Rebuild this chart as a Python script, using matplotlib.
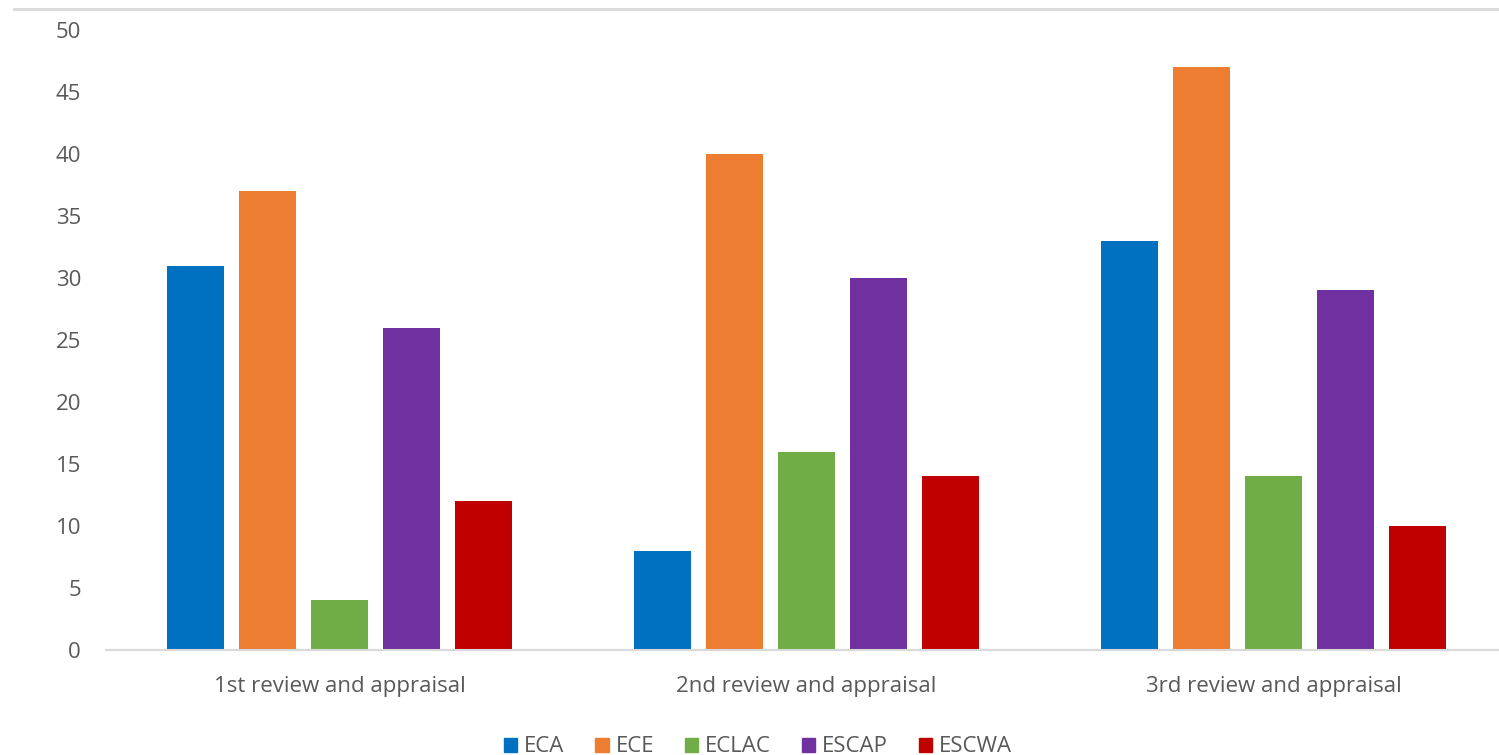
import matplotlib.pyplot as plt
import numpy as np
from matplotlib.lines import Line2D

plt.rcParams['font.family'] = ['Open Sans', 'DejaVu Sans']

# Datos
categorias = ['1st review and appraisal', '2nd review and appraisal', '3rd review and appraisal']
series = ['ECA', 'ECE', 'ECLAC', 'ESCAP', 'ESCWA']
valores = {
    'ECA': [31, 8, 33],
    'ECE': [37, 40, 47],
    'ECLAC': [4, 16, 14],
    'ESCAP': [26, 30, 29],
    'ESCWA': [12, 14, 10],
}
colores = ['#0070C0', '#ED7D31', '#70AD47', '#7030A0', '#C00000']

fig = plt.figure(figsize=(14.99, 7.55), dpi=100)
ax = fig.add_axes([106 / 1499, 105 / 755, 1401 / 1499, 620 / 755])

x = np.arange(len(categorias))
paso = 0.154
ancho = 0.122
for i, (s, c) in enumerate(zip(series, colores)):
    offset = (i - 2) * paso
    ax.bar(x + offset, valores[s], width=ancho, color=c, label=s, zorder=2)

ax.set_xlim(-0.5, 2.5)
ax.set_ylim(0, 50)
ax.set_yticks(range(0, 51, 5))
ax.set_xticks(x)
ax.set_xticklabels(categorias)
ax.tick_params(axis='both', length=0, labelsize=16, labelcolor='#595959')
ax.tick_params(axis='y', pad=18)
ax.tick_params(axis='x', pad=19)

for sp in ['top', 'right', 'left']:
    ax.spines[sp].set_visible(False)
ax.spines['bottom'].set_color('#D9D9D9')
ax.spines['bottom'].set_linewidth(1.5)

# Borde superior del gráfico
fig.add_artist(Line2D([14 / 1499, 1.0], [1 - 9 / 755, 1 - 9 / 755], color='#D9D9D9', linewidth=2))

handles = [plt.Rectangle((0, 0), 1, 1, color=c) for c in colores]
fig.legend(handles, series, loc='center', bbox_to_anchor=(758 / 1499, 1 - 747 / 755), ncol=5,
           frameon=False, fontsize=16, handlelength=0.6, handleheight=0.6, handletextpad=0.3,
           columnspacing=1.4, labelcolor='#595959')

fig.savefig('out.png', dpi=100)
